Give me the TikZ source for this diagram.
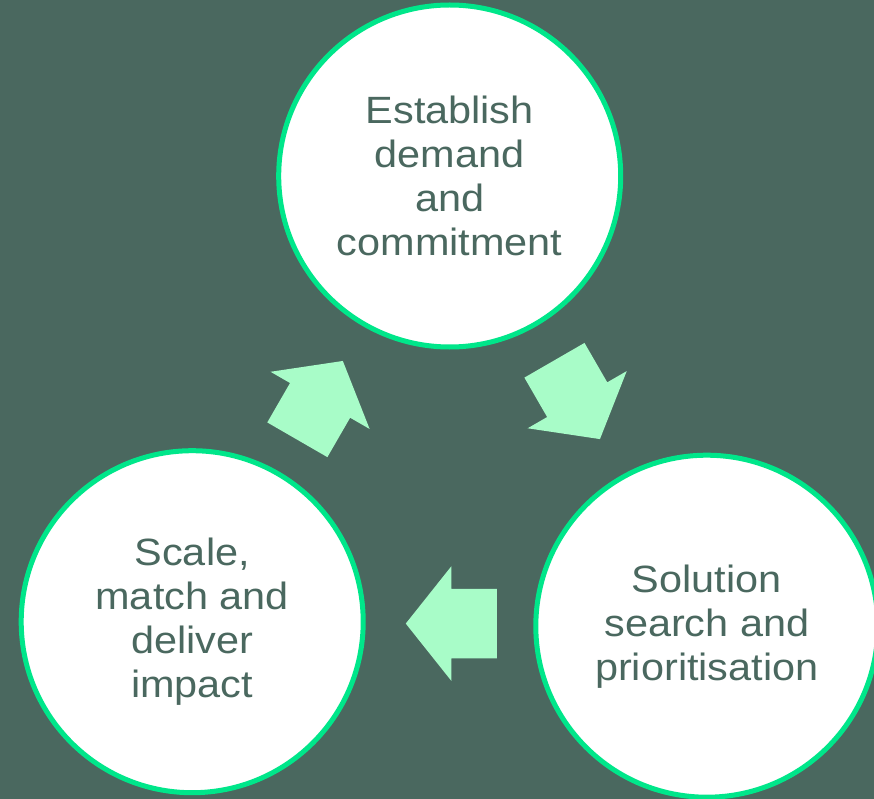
\documentclass[tikz,border=0pt]{standalone}
\usepackage{fontspec}
\setmainfont[FakeStretch=1.09]{Liberation Sans}
\usetikzlibrary{shapes.arrows,calc}
\definecolor{bgteal}{RGB}{74,104,95}
\definecolor{ringgreen}{RGB}{0,230,138}
\definecolor{mintarrow}{RGB}{168,252,200}

\begin{document}
\begin{tikzpicture}[x=1pt, y=-1pt,
  stage/.style={circle, draw=ringgreen, line width=5pt, fill=white, minimum size=342pt, inner sep=0pt, align=center, text=bgteal, font=\fontsize{38}{44}\selectfont},
  flow/.style={single arrow, fill=mintarrow, draw=none, minimum height=91pt, inner xsep=0pt, inner ysep=34.5pt, single arrow head extend=22.5pt, single arrow tip angle=103, anchor=tip}]
\useasboundingbox (0,0) rectangle (874,799);
\fill[bgteal] (0,0) rectangle (874,799);

% the three stages
\node[stage] (demand) at (449.7,176) {Establish\\demand\\and\\commitment};
\node[stage] (search) at (706.8,626.2) {Solution\\search and\\prioritisation};
\node[stage] (impact) at (192.2,621.7) {Scale,\\match and\\deliver\\impact};

% block arrows between them, tip half a length past the midpoint
\node[flow, rotate=-60] (toSearch) at ($(demand)!0.5!(search)!44pt!(search)$) {};
\node[flow, rotate=180] (toImpact) at ($(search)!0.5!(impact)!44pt!(impact)$) {};
\node[flow, rotate=60] (toDemand) at ($(impact)!0.5!(demand)!44pt!(demand)$) {};
\end{tikzpicture}
\end{document}
